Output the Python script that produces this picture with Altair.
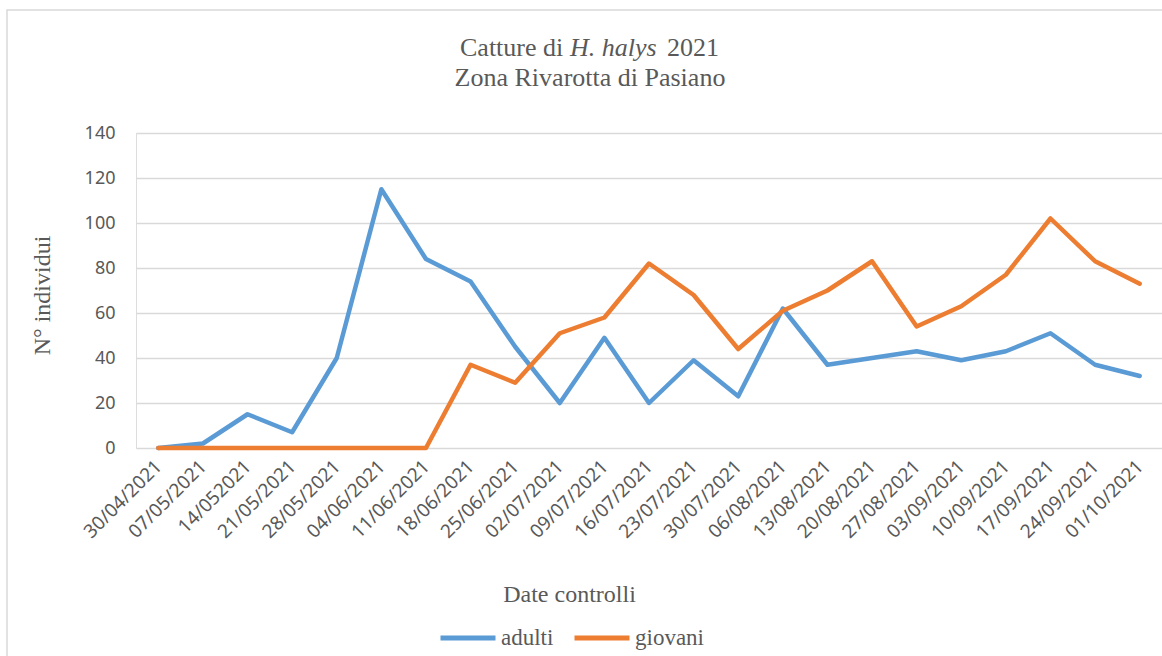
import altair as alt
import pandas as pd

# Sampling dates (labels as written on the field sheet)
dates = [
    "30/04/2021", "07/05/2021", "14/052021", "21/05/2021", "28/05/2021",
    "04/06/2021", "11/06/2021", "18/06/2021", "25/06/2021", "02/07/2021",
    "09/07/2021", "16/07/2021", "23/07/2021", "30/07/2021", "06/08/2021",
    "13/08/2021", "20/08/2021", "27/08/2021", "03/09/2021", "10/09/2021",
    "17/09/2021", "24/09/2021", "01/10/2021",
]
adulti = [0, 2, 15, 7, 40, 115, 84, 74, 45, 20, 49, 20, 39, 23, 62, 37, 40, 43, 39, 43, 51, 37, 32]
giovani = [0, 0, 0, 0, 0, 0, 0, 37, 29, 51, 58, 82, 68, 44, 61, 70, 83, 54, 63, 77, 102, 83, 73]
series = ["adulti", "giovani"]
y_ticks = [0, 20, 40, 60, 80, 100, 120, 140]

df = pd.DataFrame({"data": dates, "adulti": adulti, "giovani": giovani})
long = df.melt(id_vars="data", var_name="serie", value_name="n")

W, H = 1026, 315
PAD_L, PAD_T = 136, 133
SERIF = "Liberation Serif"
SANS = "Noto Sans"
GREY = "#595959"
GRID = "#D9D9D9"
BLUE = "#5B9BD5"
ORANGE = "#ED7D31"

lines = alt.Chart(long).mark_line(
    strokeWidth=4.5, strokeCap="round", strokeJoin="round"
).encode(
    x=alt.X(
        "data:N",
        sort=dates,
        title="Date controlli",
        axis=alt.Axis(
            labelAngle=-45, labelAlign="right", labelBaseline="middle",
            labelFont=SANS, labelFontSize=19, labelColor=GREY, labelPadding=15,
            ticks=False, domain=False, grid=False,
            titleFont=SERIF, titleFontSize=24, titleFontWeight="normal",
            titleColor=GREY, titleX=433, titleY=153, titleAlign="center",
            titleBaseline="alphabetic",
        ),
    ),
    y=alt.Y(
        "n:Q",
        scale=alt.Scale(domain=[0, 140], nice=False),
        title="N° individui",
        axis=alt.Axis(
            values=y_ticks, labelFont=SANS, labelFontSize=18, labelColor=GREY,
            labelPadding=21, ticks=False, domain=False,
            grid=True, gridColor=GRID, gridWidth=1.5,
            titleFont=SERIF, titleFontSize=24, titleFontWeight="normal",
            titleColor=GREY, titleAngle=270, titleX=-94, titleY=162,
            titleAlign="center", titleBaseline="middle",
        ),
    ),
    color=alt.Color(
        "serie:N",
        scale=alt.Scale(domain=series, range=[BLUE, ORANGE]),
        legend=alt.Legend(
            title=None, orient="none", direction="horizontal",
            legendX=302, legendY=475,
            symbolType="stroke", symbolSize=3025, symbolStrokeWidth=5,
            labelFont=SERIF, labelFontSize=23, labelColor=GREY,
            labelOffset=3, columnPadding=10, padding=0,
        ),
    ),
)

one = pd.DataFrame({"k": [0]})

# Title, with the species name in italics
title_parts = [
    ("Catture di", "normal", 324, -77, "left"),
    ("H. halys", "italic", 434, -77, "left"),
    ("2021", "normal", 531, -77, "left"),
    ("Zona Rivarotta di Pasiano", "normal", 454, -47, "center"),
]
title_layers = [
    alt.Chart(one).mark_text(
        text=txt, font=SERIF, fontSize=26, fontStyle=style, color=GREY,
        align=al, baseline="alphabetic",
    ).encode(x=alt.value(xp), y=alt.value(yp))
    for txt, style, xp, yp, al in title_parts
]

# Outer chart frame
frame = alt.Chart(one).mark_rect(
    fill="transparent", stroke=GRID, strokeWidth=1.5
).encode(
    x=alt.value(-129), y=alt.value(-123), x2=alt.value(1200), y2=alt.value(700)
)

chart = alt.layer(frame, lines, *title_layers).properties(
    width=W, height=H,
    autosize=alt.AutoSizeParams(type="none"),
    padding={"left": PAD_L, "top": PAD_T, "right": 0, "bottom": 656 - PAD_T - H},
).configure_view(stroke=None).configure(background="white")

chart.save("out.html", embed_options={"renderer": "svg", "actions": False})
